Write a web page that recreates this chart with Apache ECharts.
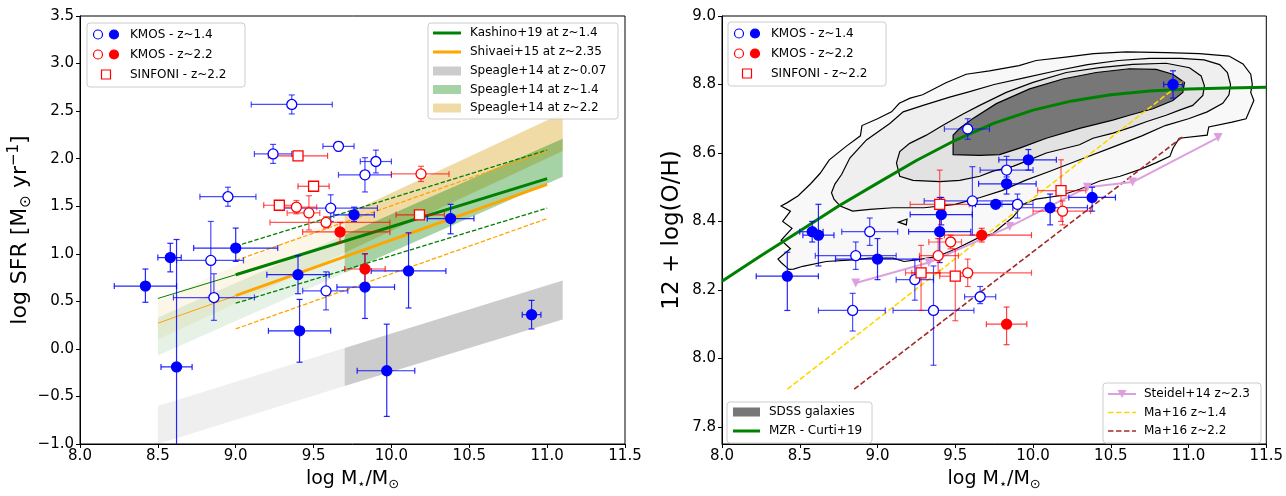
<!DOCTYPE html>
<html><head><meta charset="utf-8">
<script src="https://cdn.jsdelivr.net/npm/echarts@6/dist/echarts.min.js"></script>
<style>html,body{margin:0;padding:0;background:#fff}#c{width:1286px;height:496px}</style>
</head><body><div id="c"></div>
<script>
// ---------------- DATA ----------------
const massTicks = [8.0, 8.5, 9.0, 9.5, 10.0, 10.5, 11.0, 11.5];
const sfrTicks = [-1.0, -0.5, 0.0, 0.5, 1.0, 1.5, 2.0, 2.5, 3.0, 3.5];
const ohTicks = [7.8, 8.0, 8.2, 8.4, 8.6, 8.8, 9.0];

// rows: [logM, value, logM_low, logM_high, value_low, value_high]
const kmos14OpenSFR = [
  [9.36, 2.57, 9.10, 9.62, 2.47, 2.67], [9.24, 2.05, 9.12, 9.36, 1.95, 2.15],
  [9.66, 2.13, 9.56, 9.76, 2.08, 2.18], [9.90, 1.97, 9.80, 10.00, 1.85, 2.09],
  [9.83, 1.83, 9.66, 10.00, 1.65, 2.01], [8.95, 1.60, 8.77, 9.13, 1.50, 1.70],
  [9.61, 1.48, 9.30, 9.91, 1.34, 1.62], [8.84, 0.93, 8.62, 9.05, 0.54, 1.34],
  [8.86, 0.54, 8.60, 9.12, 0.30, 0.79], [9.58, 0.61, 9.43, 9.72, 0.41, 0.81]
];
const kmos14FilledSFR = [
  [8.42, 0.66, 8.22, 8.62, 0.49, 0.84], [8.58, 0.96, 8.50, 8.65, 0.81, 1.11],
  [8.62, -0.19, 8.52, 8.72, -1.10, 1.15], [9.00, 1.06, 8.73, 9.27, 0.92, 1.27],
  [9.40, 0.78, 9.20, 9.60, 0.58, 0.98], [9.41, 0.19, 9.21, 9.61, -0.14, 0.52],
  [9.76, 1.41, 9.63, 9.89, 1.34, 1.49], [9.83, 0.65, 9.65, 10.02, 0.32, 1.00],
  [10.11, 0.82, 9.87, 10.35, 0.43, 1.22], [9.97, -0.23, 9.78, 10.15, -0.71, 0.26],
  [10.38, 1.37, 10.23, 10.53, 1.21, 1.52], [10.90, 0.36, 10.84, 10.96, 0.21, 0.51]
];
const kmos22OpenSFR = [
  [10.19, 1.84, 10.00, 10.37, 1.76, 1.92], [9.39, 1.49, 9.27, 9.52, 1.42, 1.56],
  [9.47, 1.43, 9.33, 9.54, 1.25, 1.61], [9.58, 1.33, 9.22, 9.99, 1.27, 1.39]
];
const kmos22FilledSFR = [
  [9.67, 1.23, 9.43, 9.99, 1.12, 1.33], [9.83, 0.84, 9.70, 9.96, 0.67, 1.00]
];
const sinfoniSFR = [
  [9.40, 2.03, 9.21, 9.59, 2.03, 2.03], [9.50, 1.71, 9.40, 9.60, 1.71, 1.71],
  [9.28, 1.51, 9.18, 9.40, 1.51, 1.51], [10.18, 1.41, 10.03, 10.34, 1.41, 1.41]
];

const kmos14OpenOH = [
  [9.36, 8.14, 9.10, 9.62, 7.98, 8.27], [9.24, 8.23, 9.12, 9.36, 8.17, 8.29],
  [9.66, 8.18, 9.56, 9.76, 8.16, 8.21], [9.90, 8.45, 9.80, 10.00, 8.41, 8.48],
  [9.83, 8.55, 9.66, 10.00, 8.53, 8.59], [8.95, 8.37, 8.77, 9.13, 8.33, 8.41],
  [9.61, 8.46, 9.30, 9.91, 8.36, 8.56], [8.84, 8.14, 8.62, 9.05, 8.08, 8.19],
  [8.86, 8.30, 8.60, 9.12, 8.26, 8.34], [9.58, 8.67, 9.43, 9.72, 8.64, 8.70]
];
const kmos14FilledOH = [
  [8.42, 8.24, 8.22, 8.62, 8.14, 8.31], [8.58, 8.37, 8.50, 8.65, 8.34, 8.40],
  [8.62, 8.36, 8.52, 8.72, 8.27, 8.45], [9.00, 8.29, 8.73, 9.27, 8.23, 8.35],
  [9.40, 8.37, 9.20, 9.60, 8.28, 8.47], [9.41, 8.42, 9.21, 9.61, 8.39, 8.47],
  [9.76, 8.45, 9.63, 9.89, 8.44, 8.46], [9.83, 8.51, 9.65, 10.02, 8.48, 8.54],
  [10.11, 8.44, 9.87, 10.35, 8.39, 8.48], [9.97, 8.58, 9.78, 10.15, 8.55, 8.61],
  [10.38, 8.47, 10.23, 10.53, 8.43, 8.50], [10.90, 8.80, 10.84, 10.96, 8.76, 8.84]
];
const kmos22OpenOH = [
  [10.19, 8.43, 10.00, 10.37, 8.39, 8.46], [9.39, 8.30, 9.27, 9.52, 8.25, 8.35],
  [9.47, 8.34, 9.33, 9.54, 8.32, 8.36], [9.58, 8.25, 9.22, 9.99, 8.21, 8.29]
];
const kmos22FilledOH = [
  [9.67, 8.36, 9.43, 9.99, 8.34, 8.38], [9.83, 8.10, 9.70, 9.96, 8.04, 8.15]
];
const sinfoniOH = [
  [9.40, 8.45, 9.21, 9.59, 8.35, 8.55], [9.50, 8.24, 9.40, 9.60, 8.11, 8.32],
  [9.28, 8.25, 9.18, 9.40, 8.14, 8.33], [10.18, 8.49, 10.03, 10.34, 8.40, 8.58]
];

// Left-panel relations
const kashinoMain = [[9.0, 0.78], [11.0, 1.79]];
const kashinoExt = [[8.5, 0.53], [9.0, 0.78]];
const kashinoUp = [[9.0, 1.08], [11.0, 2.09]];
const kashinoLo = [[9.0, 0.48], [11.0, 1.48]];
const shivaeiMain = [[9.0, 0.56], [11.0, 1.73]];
const shivaeiExt = [[8.5, 0.27], [9.0, 0.56]];
const shivaeiUp = [[9.0, 0.93], [11.0, 2.08]];
const shivaeiLo = [[9.0, 0.21], [11.0, 1.37]];
const speagleX = [8.5, 9.7, 11.1];
const speagle007Lo = [-1.00, -0.39, 0.31];
const speagle007Hi = [-0.60, 0.01, 0.72];
const speagle14Lo = [-0.07, 0.80, 1.81];
const speagle14Hi = [0.33, 1.20, 2.21];
const speagle22Lo = [0.10, 1.01, 2.08];
const speagle22Hi = [0.50, 1.41, 2.48];

// Right-panel relations
const curtiX = [8.0, 8.25, 8.5, 8.75, 9.0, 9.25, 9.5, 9.75, 10.0, 10.25, 10.5, 10.75, 11.0, 11.25, 11.5];
const curtiY = [8.225, 8.30, 8.372, 8.445, 8.512, 8.578, 8.637, 8.687, 8.725, 8.752, 8.77, 8.781, 8.787, 8.790, 8.792];
const ma14 = [[8.42, 7.91], [10.97, 8.81]];
const ma22 = [[8.85, 7.91], [10.97, 8.65]];
const steidel = [[8.86, 8.22], [9.33, 8.28], [9.85, 8.385], [10.35, 8.50], [10.64, 8.515], [11.19, 8.645]];

// SDSS density contours (outer to inner)
const sdss1 = [[8.43,8.26],[8.38,8.28],[8.36,8.29],[8.44,8.32],[8.38,8.345],[8.45,8.38],[8.39,8.40],[8.44,8.43],[8.38,8.445],[8.42,8.455],[8.49,8.475],[8.57,8.51],[8.63,8.54],[8.69,8.58],[8.80,8.62],[8.89,8.65],[8.90,8.68],[9.00,8.70],[9.09,8.72],[9.14,8.745],[9.21,8.76],[9.29,8.77],[9.44,8.805],[9.57,8.83],[9.72,8.84],[9.91,8.855],[10.02,8.87],[10.21,8.88],[10.39,8.89],[10.60,8.895],[10.86,8.893],[11.07,8.89],[11.26,8.883],[11.35,8.86],[11.40,8.83],[11.41,8.80],[11.40,8.777],[11.42,8.753],[11.37,8.70],[11.28,8.69],[11.13,8.676],[11.12,8.652],[10.94,8.643],[10.90,8.614],[10.88,8.59],[10.79,8.571],[10.69,8.552],[10.56,8.532],[10.43,8.518],[10.30,8.494],[10.17,8.475],[10.02,8.465],[9.94,8.451],[9.87,8.412],[9.74,8.364],[9.66,8.355],[9.51,8.321],[9.38,8.297],[9.25,8.288],[9.17,8.283],[9.10,8.293],[8.95,8.293],[8.84,8.288],[8.67,8.283],[8.52,8.269],[8.46,8.261]];
const sdss2 = [[8.704,8.484],[8.726,8.509],[8.769,8.537],[8.822,8.585],[8.929,8.638],[9.079,8.686],[9.165,8.720],[9.293,8.739],[9.464,8.763],[9.593,8.779],[9.75,8.80],[9.95,8.82],[10.15,8.84],[10.35,8.858],[10.55,8.870],[10.75,8.876],[10.95,8.876],[11.1,8.872],[11.2,8.858],[11.25,8.835],[11.27,8.80],[11.26,8.77],[11.22,8.745],[11.12,8.72],[11.0,8.70],[10.85,8.68],[10.7,8.65],[10.5,8.615],[10.3,8.58],[10.1,8.545],[9.95,8.52],[9.8,8.49],[9.66,8.47],[9.5,8.45],[9.3,8.44],[9.1,8.44],[8.95,8.435],[8.84,8.43],[8.76,8.445],[8.72,8.465]];
const sdss3 = [[9.122,8.571],[9.143,8.604],[9.207,8.628],[9.314,8.652],[9.421,8.681],[9.55,8.714],[9.657,8.739],[9.828,8.777],[10.0,8.806],[10.214,8.835],[10.428,8.849],[10.642,8.859],[10.856,8.862],[11.006,8.849],[11.081,8.825],[11.102,8.796],[11.092,8.768],[11.027,8.739],[10.942,8.725],[10.856,8.710],[10.728,8.691],[10.642,8.677],[10.514,8.658],[10.385,8.643],[10.299,8.624],[10.085,8.600],[9.957,8.576],[9.871,8.561],[9.743,8.547],[9.657,8.532],[9.529,8.520],[9.40,8.516],[9.228,8.520],[9.143,8.532]];
const sdss4 = [[9.486,8.652],[9.529,8.672],[9.614,8.701],[9.764,8.744],[9.978,8.787],[10.192,8.816],[10.406,8.835],[10.62,8.846],[10.792,8.844],[10.899,8.830],[10.974,8.806],[10.963,8.777],[10.899,8.753],[10.771,8.729],[10.62,8.710],[10.513,8.696],[10.299,8.672],[10.085,8.643],[9.914,8.614],[9.785,8.595],[9.657,8.593],[9.486,8.595]];
const sdssIsland = [[9.135,8.398],[9.19,8.407],[9.185,8.39]];

// ---------------- CHART ----------------
const FONT = "'DejaVu Sans', sans-serif";
const BLUE = '#0000ff', RED = '#ff0000';

function fmt(v) { return (v < 0 ? '\u2212' : '') + Math.abs(v).toFixed(1); }

function polySeries(pts, gi, fill, stroke, z) {
  return {
    type: 'custom', xAxisIndex: gi, yAxisIndex: gi, data: pts, encode: {x: 0, y: 1},
    clip: true, silent: true, z: z,
    renderItem: function (params, api) {
      if (params.dataIndex !== 0) return {type: 'group', children: []};
      return {
        type: 'polygon',
        shape: {points: pts.map(function (p) { return api.coord(p); })},
        style: {fill: fill, stroke: stroke || null, lineWidth: stroke ? 1.2 : 0}
      };
    }
  };
}
function band(lo, hi, i0, i1) {
  return [[speagleX[i0], lo[i0]], [speagleX[i1], lo[i1]], [speagleX[i1], hi[i1]], [speagleX[i0], hi[i0]]];
}
function lineSeries(pts, gi, color, width, type, z) {
  return {
    type: 'line', xAxisIndex: gi, yAxisIndex: gi, data: pts, symbol: 'none', showSymbol: false,
    lineStyle: {color: color, width: width, type: type || 'solid'}, z: z, silent: true, clip: true
  };
}
function errSeries(rows, gi, color, opacity, z) {
  return {
    type: 'custom', xAxisIndex: gi, yAxisIndex: gi, data: rows, clip: true, silent: true, z: z,
    encode: {x: 0, y: 1},
    renderItem: function (params, api) {
      const x = api.value(0), y = api.value(1), x0 = api.value(2), x1 = api.value(3), y0 = api.value(4), y1 = api.value(5);
      const L = api.coord([x0, y]), R = api.coord([x1, y]), B = api.coord([x, y0]), T = api.coord([x, y1]);
      const st = {stroke: color, lineWidth: 1.2, opacity: opacity};
      const ch = [];
      const seg = function (a, b, c, d) { ch.push({type: 'line', shape: {x1: a, y1: b, x2: c, y2: d}, style: st}); };
      seg(L[0], L[1], R[0], R[1]); seg(L[0], L[1] - 3, L[0], L[1] + 3); seg(R[0], R[1] - 3, R[0], R[1] + 3);
      if (y1 > y0) { seg(B[0], B[1], T[0], T[1]); seg(B[0] - 3, B[1], B[0] + 3, B[1]); seg(T[0] - 3, T[1], T[0] + 3, T[1]); }
      return {type: 'group', children: ch};
    }
  };
}
function markSeries(rows, gi, symbol, size, fill, stroke, z) {
  return {
    type: 'scatter', xAxisIndex: gi, yAxisIndex: gi, data: rows.map(function (r) { return [r[0], r[1]]; }),
    symbol: symbol, symbolSize: size, silent: true, z: z,
    itemStyle: {color: fill, borderColor: stroke, borderWidth: 1.3, opacity: 1}
  };
}

const axisBase = {
  axisLine: {show: true, onZero: false, lineStyle: {color: '#000', width: 1}},
  axisTick: {show: true, inside: false, length: 4, lineStyle: {color: '#000', width: 1}},
  splitLine: {show: false}
};
const labelBase = {color: '#000', fontSize: 15, fontFamily: FONT, formatter: fmt};
function richSet(big) {
  return {
    a: {fontSize: big, fontFamily: FONT, color: '#000', lineHeight: big + 5, verticalAlign: 'middle'},
    s: {fontSize: Math.round(big * 0.68), fontFamily: FONT, color: '#000', lineHeight: 4, verticalAlign: 'bottom'},
    p: {fontSize: Math.round(big * 0.68), fontFamily: FONT, color: '#000', lineHeight: 4, verticalAlign: 'top'}
  };
}
const xName = '{a|log M}{s|\u22c6}{a|/M}{s|\u2299}';

const xAxes = [0, 1].map(function (gi) {
  return Object.assign({}, axisBase, {
    type: 'value', gridIndex: gi, min: 8.0, max: 11.5, interval: 0.5,
    axisLabel: Object.assign({}, labelBase, {margin: 5, customValues: massTicks}),
    axisTick: Object.assign({}, axisBase.axisTick, {customValues: massTicks}),
    name: xName, nameLocation: 'middle', nameGap: 23,
    nameTextStyle: {rich: richSet(19)}
  });
});
const yAxes = [
  Object.assign({}, axisBase, {
    type: 'value', gridIndex: 0, min: -1.0, max: 3.5, interval: 0.5,
    axisLabel: Object.assign({}, labelBase, {margin: 6, customValues: sfrTicks}),
    axisTick: Object.assign({}, axisBase.axisTick, {customValues: sfrTicks}),
    name: '{a|log SFR [M}{s|\u2299}{a| yr}{p|\u22121}{a|]}', nameLocation: 'middle', nameRotate: 90, nameGap: 45,
    nameTextStyle: {rich: richSet(22)}
  }),
  Object.assign({}, axisBase, {
    type: 'value', gridIndex: 1, min: 7.75, max: 9.0,
    axisLabel: Object.assign({}, labelBase, {margin: 6, customValues: ohTicks}),
    axisTick: Object.assign({}, axisBase.axisTick, {customValues: ohTicks}),
    name: '{a|12 + log(O/H)}', nameLocation: 'middle', nameRotate: 90, nameGap: 36,
    nameTextStyle: {rich: richSet(23)}
  })
];

const series = [];
// left: Speagle bands
series.push(polySeries(band(speagle007Lo, speagle007Hi, 0, 1), 0, 'rgba(128,128,128,0.13)', null, 1));
series.push(polySeries(band(speagle007Lo, speagle007Hi, 1, 2), 0, 'rgba(128,128,128,0.40)', null, 1));
series.push(polySeries(band(speagle22Lo, speagle22Hi, 0, 1), 0, 'rgba(218,165,32,0.10)', null, 1));
series.push(polySeries(band(speagle22Lo, speagle22Hi, 1, 2), 0, 'rgba(218,165,32,0.40)', null, 1));
series.push(polySeries(band(speagle14Lo, speagle14Hi, 0, 1), 0, 'rgba(0,128,0,0.10)', null, 1));
series.push(polySeries(band(speagle14Lo, speagle14Hi, 1, 2), 0, 'rgba(0,128,0,0.35)', null, 1));
// left: relations
series.push(lineSeries(kashinoExt, 0, '#008000', 1, 'solid', 2));
series.push(lineSeries(kashinoMain, 0, '#008000', 3, 'solid', 2));
series.push(lineSeries(kashinoUp, 0, '#008000', 1.3, [4.5, 2], 2));
series.push(lineSeries(kashinoLo, 0, '#008000', 1.3, [4.5, 2], 2));
series.push(lineSeries(shivaeiExt, 0, '#ffa500', 1, 'solid', 2));
series.push(lineSeries(shivaeiMain, 0, '#ffa500', 3, 'solid', 2));
series.push(lineSeries(shivaeiUp, 0, '#ffa500', 1.3, [4.5, 2], 2));
series.push(lineSeries(shivaeiLo, 0, '#ffa500', 1.3, [4.5, 2], 2));
// left: points
series.push(errSeries(kmos14OpenSFR, 0, BLUE, 0.7, 3));
series.push(errSeries(kmos14FilledSFR, 0, BLUE, 0.85, 3));
series.push(errSeries(kmos22OpenSFR, 0, RED, 0.65, 3));
series.push(errSeries(kmos22FilledSFR, 0, RED, 0.75, 3));
series.push(errSeries(sinfoniSFR, 0, RED, 0.75, 3));
series.push(markSeries(kmos14OpenSFR, 0, 'circle', 10, '#fff', BLUE, 4));
series.push(markSeries(kmos14FilledSFR, 0, 'circle', 10, BLUE, BLUE, 4));
series.push(markSeries(kmos22OpenSFR, 0, 'circle', 10, '#fff', RED, 4));
series.push(markSeries(kmos22FilledSFR, 0, 'circle', 10, RED, RED, 4));
series.push(markSeries(sinfoniSFR, 0, 'rect', 10, '#fff', RED, 4));

// right: SDSS contours
series.push(polySeries(sdss1, 1, '#f8f8f8', '#000', 1));
series.push(polySeries(sdss2, 1, '#efefef', '#000', 1));
series.push(polySeries(sdss3, 1, '#e2e2e2', '#000', 1));
series.push(polySeries(sdss4, 1, '#777777', '#000', 1));
series.push(polySeries(sdssIsland, 1, '#efefef', '#000', 1));
// right: relations
series.push(lineSeries(curtiX.map(function (x, i) { return [x, curtiY[i]]; }), 1, '#008000', 3, 'solid', 2));
series.push(lineSeries(ma14, 1, '#ffd700', 1.6, [5.5, 2.5], 2));
series.push(lineSeries(ma22, 1, '#a52a2a', 1.6, [5.5, 2.5], 2));
series.push({
  type: 'line', xAxisIndex: 1, yAxisIndex: 1, data: steidel, symbol: 'triangle', symbolRotate: 180, symbolSize: 9,
  showSymbol: true, itemStyle: {color: '#dda0dd'}, lineStyle: {color: '#dda0dd', width: 2}, z: 2, silent: true
});
// right: points
series.push(errSeries(kmos14OpenOH, 1, BLUE, 0.7, 3));
series.push(errSeries(kmos14FilledOH, 1, BLUE, 0.85, 3));
series.push(errSeries(kmos22OpenOH, 1, RED, 0.65, 3));
series.push(errSeries(kmos22FilledOH, 1, RED, 0.75, 3));
series.push(errSeries(sinfoniOH, 1, RED, 0.65, 3));
series.push(markSeries(kmos14OpenOH, 1, 'circle', 10, '#fff', BLUE, 4));
series.push(markSeries(kmos14FilledOH, 1, 'circle', 10, BLUE, BLUE, 4));
series.push(markSeries(kmos22OpenOH, 1, 'circle', 10, '#fff', RED, 4));
series.push(markSeries(kmos22FilledOH, 1, 'circle', 10, RED, RED, 4));
series.push(markSeries(sinfoniOH, 1, 'rect', 10, '#fff', RED, 4));

// ---------------- LEGENDS (graphic) ----------------
const G = [];
function box(x, y, w, h) {
  G.push({type: 'rect', shape: {x: x, y: y, width: w, height: h, r: 3}, style: {fill: 'rgba(255,255,255,0.85)', stroke: '#cccccc', lineWidth: 1}, z: 100});
}
function txt(x, y, s) {
  G.push({type: 'text', x: x, y: y, style: {text: s, fontSize: 12, fontFamily: FONT, fill: '#000', verticalAlign: 'middle', align: 'left'}, z: 101});
}
function circ(cx, cy, fill, stroke) {
  G.push({type: 'circle', shape: {cx: cx, cy: cy, r: 4.5}, style: {fill: fill, stroke: stroke, lineWidth: 1.2}, z: 101});
}
function sq(cx, cy) {
  G.push({type: 'rect', shape: {x: cx - 4.5, y: cy - 4.5, width: 9, height: 9}, style: {fill: '#fff', stroke: RED, lineWidth: 1.2}, z: 101});
}
function lseg(x1, x2, y, color, w, dash) {
  G.push({type: 'line', shape: {x1: x1, y1: y, x2: x2, y2: y}, style: {stroke: color, lineWidth: w, lineDash: dash || null}, z: 101});
}
function patch(x1, x2, y, color) {
  G.push({type: 'rect', shape: {x: x1, y: y - 4.5, width: x2 - x1, height: 9}, style: {fill: color}, z: 101});
}
function pointsLegend(x, y) {
  box(x, y, 158, 64);
  circ(x + 11, y + 11.5, '#fff', BLUE); circ(x + 27, y + 11.5, BLUE, BLUE); txt(x + 43, y + 11.5, 'KMOS - z~1.4');
  circ(x + 11, y + 31.5, '#fff', RED); circ(x + 27, y + 31.5, RED, RED); txt(x + 43, y + 31.5, 'KMOS - z~2.2');
  sq(x + 19, y + 51.5); txt(x + 43, y + 51.5, 'SINFONI - z~2.2');
}
pointsLegend(87, 23);
pointsLegend(728, 22);
// left: relations legend
box(428, 23, 190, 96);
lseg(433, 461, 33, '#008000', 3); txt(470, 33, 'Kashino+19 at z~1.4');
lseg(433, 461, 52, '#ffa500', 3); txt(470, 52, 'Shivaei+15 at z~2.35');
patch(433, 461, 71, '#cccccc'); txt(470, 71, 'Speagle+14 at z~0.07');
patch(433, 461, 89.5, '#a6d3a6'); txt(470, 89.5, 'Speagle+14 at z~1.4');
patch(433, 461, 108, '#f0dba6'); txt(470, 108, 'Speagle+14 at z~2.2');
// right: SDSS legend
box(727, 402, 145, 41);
patch(733, 760, 412, '#777777'); txt(769, 412, 'SDSS galaxies');
lseg(733, 760, 431, '#008000', 3); txt(769, 431, 'MZR - Curti+19');
// right: other relations legend
box(1103, 383, 158, 60);
lseg(1108, 1136, 394, '#dda0dd', 2);
G.push({type: 'polygon', shape: {points: [[1117.5, 390], [1126.5, 390], [1122, 398]]}, style: {fill: '#dda0dd'}, z: 102});
txt(1144, 394, 'Steidel+14 z~2.3');
lseg(1108, 1136, 412.5, '#ffd700', 1.6, [5.5, 2.5]); txt(1144, 412.5, 'Ma+16 z~1.4');
lseg(1108, 1136, 431, '#a52a2a', 1.6, [5.5, 2.5]); txt(1144, 431, 'Ma+16 z~2.2');

const chart = echarts.init(document.getElementById('c'), null, {renderer: 'canvas'});
chart.setOption({
  animation: false,
  backgroundColor: '#fff',
  grid: [
    {left: 80, top: 16, width: 545, height: 435, show: true, borderColor: '#000', borderWidth: 1, backgroundColor: 'transparent'},
    {left: 722, top: 16, width: 545, height: 435, show: true, borderColor: '#000', borderWidth: 1, backgroundColor: 'transparent'}
  ],
  xAxis: xAxes,
  yAxis: yAxes,
  series: series,
  graphic: G
});
</script></body></html>
